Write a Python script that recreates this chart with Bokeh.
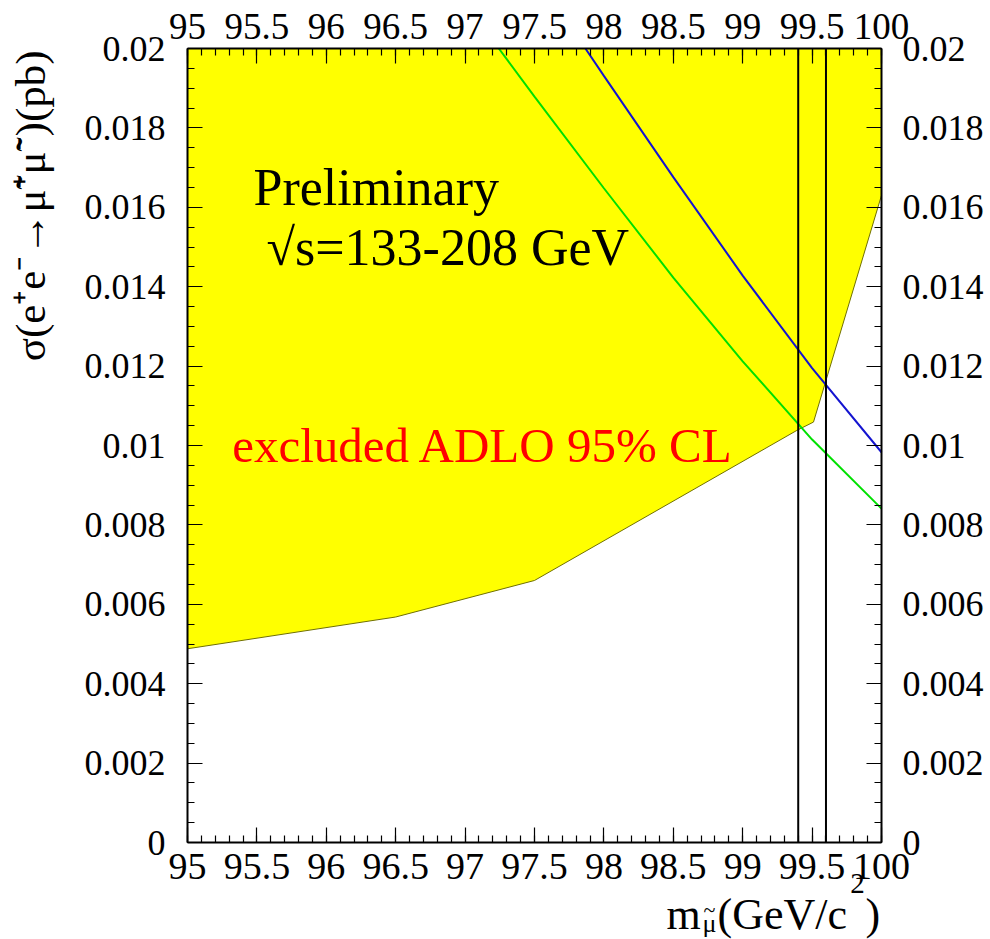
import math
from bokeh.plotting import figure
from bokeh.models import LinearAxis, Range1d, FixedTicker, Label
from bokeh.embed import file_html
from bokeh.resources import INLINE

# ---------------- data ----------------
x_ticks = [95, 95.5, 96, 96.5, 97, 97.5, 98, 98.5, 99, 99.5, 100]
x_tick_labels = ["95", "95.5", "96", "96.5", "97", "97.5", "98", "98.5", "99", "99.5", "100"]
x_minor = [95 + 0.1 * i for i in range(51)]
y_ticks = [0, 0.002, 0.004, 0.006, 0.008, 0.01, 0.012, 0.014, 0.016, 0.018, 0.02]
y_tick_labels = ["0", "0.002", "0.004", "0.006", "0.008", "0.01", "0.012", "0.014", "0.016", "0.018", "0.02"]
y_minor = [0.0005 * i for i in range(41)]

# excluded region lower boundary (ADLO 95% CL)
excl_mass = [95.0, 96.5, 97.5, 99.39, 99.51, 100.0]
excl_xsec = [0.00488, 0.00568, 0.0066, 0.01038, 0.01059, 0.0163]

# theoretical cross-section curves
green_mass = [97.243, 97.5, 98.0, 98.5, 99.0, 99.5, 100.0]
green_xsec = [0.0200, 0.01879, 0.01648, 0.01423, 0.01212, 0.01015, 0.00841]
blue_mass = [97.867, 98.0, 98.5, 99.0, 99.5, 100.0]
blue_xsec = [0.0200, 0.01931, 0.01676, 0.01428, 0.01195, 0.00983]

# mass limits
limit_masses = [99.4, 99.6]

X_MIN, X_MAX = 95, 100
Y_MIN, Y_MAX = 0, 0.02

SERIF = "Liberation Serif"

W, H = 990, 939
# frame fills the canvas; the axes box sits at fixed data locations
px_per_x = 138.8      # pixels per GeV
px_per_y = 39700.0    # pixels per pb
x_start = X_MIN - 187 / px_per_x
x_end = x_start + W / px_per_x
y_start = Y_MIN - 97 / px_per_y
y_end = y_start + H / px_per_y

p = figure(width=W, height=H, output_backend="svg", toolbar_location=None,
           x_range=Range1d(x_start, x_end), y_range=Range1d(y_start, y_end),
           x_axis_type=None, y_axis_type=None, min_border=0)
p.background_fill_color = "white"
p.border_fill_color = "white"
p.outline_line_color = None


def style_axis(ax, ticks, labels, minor, size, standoff, loc, bounds):
    ax.ticker = FixedTicker(ticks=ticks, minor_ticks=minor)
    ax.major_label_overrides = dict(zip(ticks, labels))
    ax.fixed_location = loc
    ax.bounds = bounds
    ax.major_tick_in = 15
    ax.major_tick_out = 0
    ax.minor_tick_in = 7
    ax.minor_tick_out = 0
    ax.axis_line_width = 2
    ax.major_tick_line_width = 1.2
    ax.minor_tick_line_width = 1.2
    ax.major_label_text_font = SERIF
    ax.major_label_text_font_size = size
    ax.major_label_text_color = "black"
    ax.major_label_standoff = standoff


ax_b = LinearAxis()
style_axis(ax_b, x_ticks, x_tick_labels, x_minor, "38px", 11, Y_MIN, (X_MIN, X_MAX))
p.add_layout(ax_b, "below")
ax_t = LinearAxis()
style_axis(ax_t, x_ticks, x_tick_labels, x_minor, "37px", 10, Y_MAX, (X_MIN, X_MAX))
p.add_layout(ax_t, "above")
ax_l = LinearAxis()
style_axis(ax_l, y_ticks, y_tick_labels, y_minor, "36px", 22, X_MIN, (Y_MIN, Y_MAX))
p.add_layout(ax_l, "left")
ax_r = LinearAxis()
style_axis(ax_r, y_ticks, y_tick_labels, y_minor, "36px", 21, X_MAX, (Y_MIN, Y_MAX))
p.add_layout(ax_r, "right")

# excluded region
poly_x = excl_mass + [X_MAX, X_MIN]
poly_y = excl_xsec + [Y_MAX, Y_MAX]
p.patch(poly_x, poly_y, fill_color="#ffff00", line_color=None)
p.line(excl_mass, excl_xsec, line_color="#707000", line_width=1)

# cross-section curves
p.line(green_mass, green_xsec, line_color="#00e000", line_width=2)
p.line(blue_mass, blue_xsec, line_color="#1414d0", line_width=2)

# mass limits
p.segment(x0=limit_masses, y0=[Y_MIN] * len(limit_masses),
          x1=limit_masses, y1=[Y_MAX] * len(limit_masses),
          line_color="black", line_width=2)


def add_text(x, y, text, size, color="black", align="left", angle=0.0):
    p.add_layout(Label(x=x, y=y, text=text, text_font=SERIF, text_font_size=size,
                       text_color=color, text_align=align,
                       text_baseline="alphabetic", angle=angle))


# texts inside the frame
add_text(95.4755, 0.01651, "Preliminary", "52px")
add_text(95.569, 0.01500, "\u221as=133-208 GeV", "52px")
add_text(95.322, 0.0100, "excluded ADLO 95% CL", "49px", color="#ff0000")

# y axis title (rotated)
add_text(93.869, 0.01995,
         "\u03c3(e\u207ae\u207b\u2192\u03bc\u0303\u207a\u03bc\u0303\u207b)(pb)",
         "43px", align="right", angle=math.pi / 2)

# x axis title pieces: m, subscript mu with tilde, (GeV/c, superscript 2, )
add_text(98.4510, -0.00181, "m", "44px")
add_text(98.7103, -0.00204, "\u03bc", "26px")
add_text(98.7608, -0.00168, "~", "22px", align="center")
add_text(98.8184, -0.00181, "(GeV/c", "44px")
add_text(99.7740, -0.00103, "2", "29px")
add_text(99.8840, -0.00181, ")", "44px")

open("out.html", "w").write(file_html(p, INLINE))
